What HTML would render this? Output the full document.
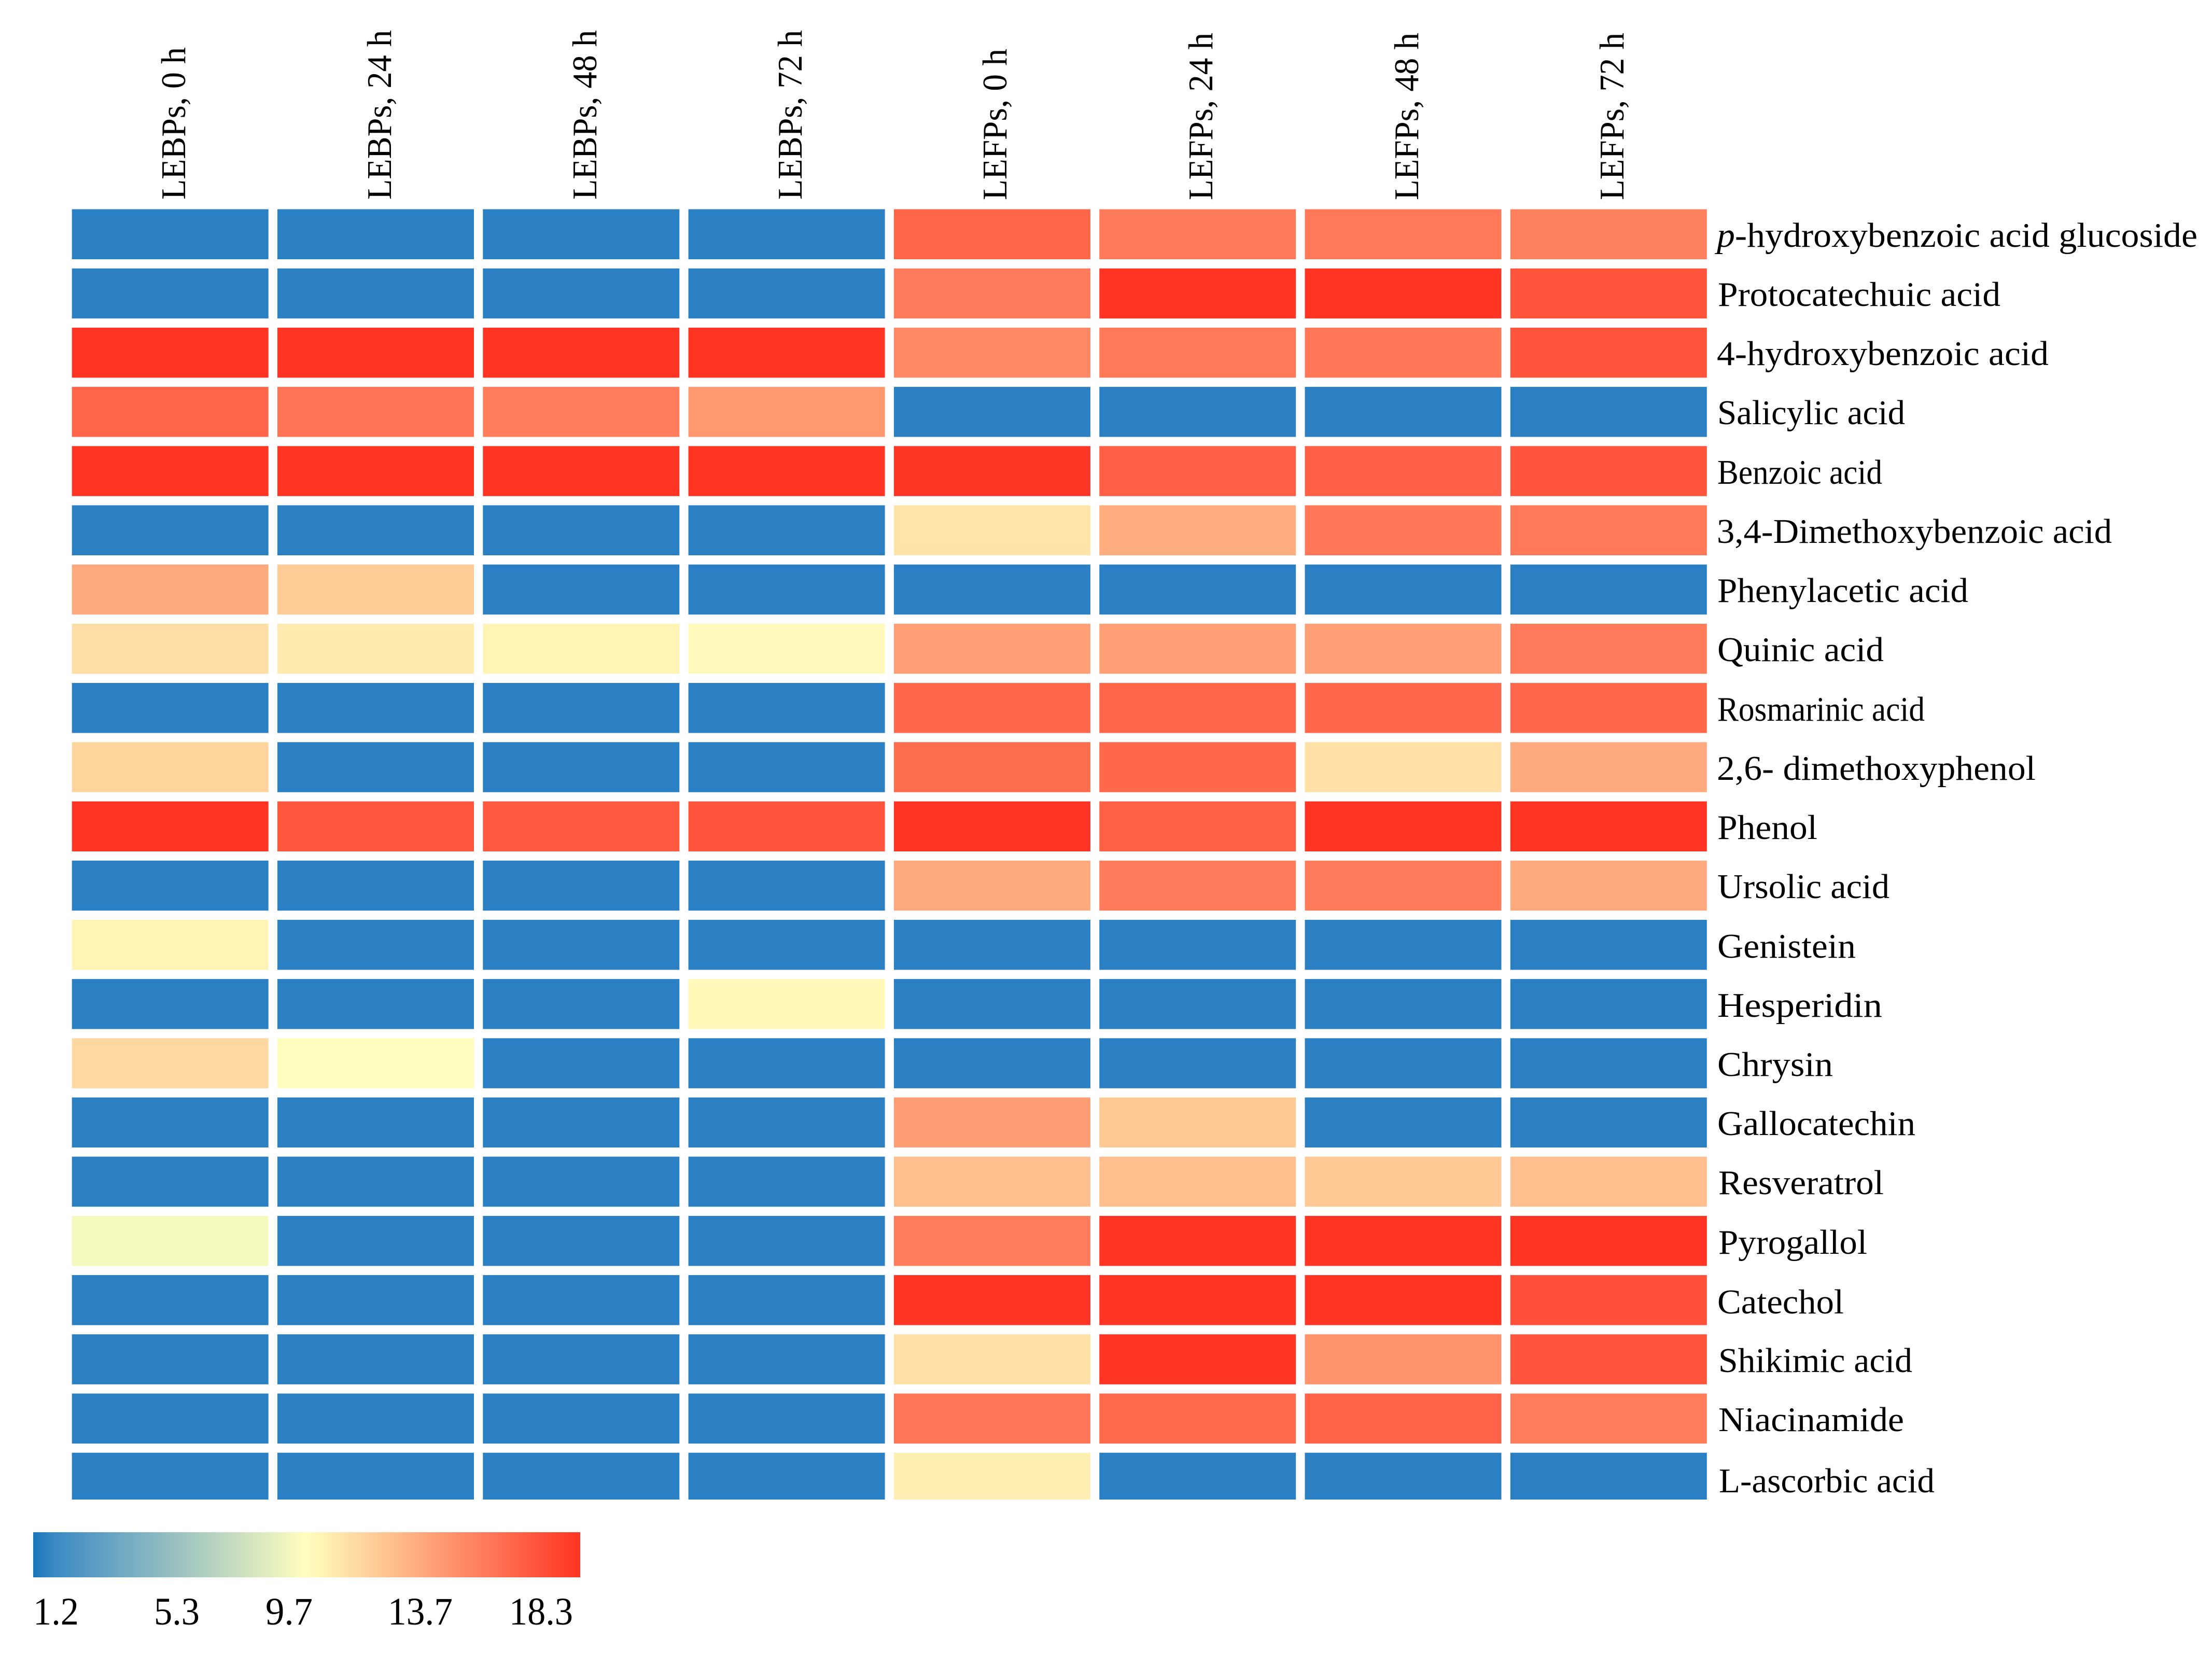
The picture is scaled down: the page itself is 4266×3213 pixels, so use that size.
<!DOCTYPE html>
<html lang="en">
<head>
<meta charset="utf-8">
<title>Phenolic compounds heatmap</title>
<style>
  html, body { margin: 0; padding: 0; background: #ffffff; }
  #chart { display: block; width: 4266px; height: 3213px; }
  text { font-family: "Liberation Serif", serif; fill: #000; }
  .col { font-size: 67px; }
  .row { font-size: 67px; }
  .tick { font-size: 75px; }
</style>
</head>
<body>
<svg id="chart" xmlns="http://www.w3.org/2000/svg" width="4266" height="3213" viewBox="0 0 4266 3213">
  <rect x="0" y="0" width="4266" height="3213" fill="#ffffff"/>
  <g id="cells"></g>

  <g>
    <text class="col" transform="translate(357 385) rotate(-90)" textLength="294" lengthAdjust="spacingAndGlyphs">LEBPs, 0 h</text>
    <text class="col" transform="translate(754 385) rotate(-90)" textLength="327" lengthAdjust="spacingAndGlyphs">LEBPs, 24 h</text>
    <text class="col" transform="translate(1150 385) rotate(-90)" textLength="327" lengthAdjust="spacingAndGlyphs">LEBPs, 48 h</text>
    <text class="col" transform="translate(1546 385) rotate(-90)" textLength="327" lengthAdjust="spacingAndGlyphs">LEBPs, 72 h</text>
    <text class="col" transform="translate(1941 386) rotate(-90)" textLength="292" lengthAdjust="spacingAndGlyphs">LEFPs, 0 h</text>
    <text class="col" transform="translate(2338 386) rotate(-90)" textLength="323" lengthAdjust="spacingAndGlyphs">LEFPs, 24 h</text>
    <text class="col" transform="translate(2735 386) rotate(-90)" textLength="323" lengthAdjust="spacingAndGlyphs">LEFPs, 48 h</text>
    <text class="col" transform="translate(3131 386) rotate(-90)" textLength="323" lengthAdjust="spacingAndGlyphs">LEFPs, 72 h</text>
  </g>

  <g>
    <text class="row" x="3311" y="476" textLength="927" lengthAdjust="spacingAndGlyphs"><tspan font-style="italic">p</tspan>-hydroxybenzoic acid glucoside</text>
    <text class="row" x="3313" y="590" textLength="545" lengthAdjust="spacingAndGlyphs">Protocatechuic acid</text>
    <text class="row" x="3311" y="704" textLength="640" lengthAdjust="spacingAndGlyphs">4-hydroxybenzoic acid</text>
    <text class="row" x="3312" y="818" textLength="362" lengthAdjust="spacingAndGlyphs">Salicylic acid</text>
    <text class="row" x="3312" y="933" textLength="318" lengthAdjust="spacingAndGlyphs">Benzoic acid</text>
    <text class="row" x="3311" y="1047" textLength="762" lengthAdjust="spacingAndGlyphs">3,4-Dimethoxybenzoic acid</text>
    <text class="row" x="3312" y="1161" textLength="484" lengthAdjust="spacingAndGlyphs">Phenylacetic acid</text>
    <text class="row" x="3312" y="1275" textLength="321" lengthAdjust="spacingAndGlyphs">Quinic acid</text>
    <text class="row" x="3312" y="1390" textLength="400" lengthAdjust="spacingAndGlyphs">Rosmarinic acid</text>
    <text class="row" x="3311" y="1504" textLength="615" lengthAdjust="spacingAndGlyphs">2,6- dimethoxyphenol</text>
    <text class="row" x="3312" y="1618" textLength="193" lengthAdjust="spacingAndGlyphs">Phenol</text>
    <text class="row" x="3312" y="1732" textLength="332" lengthAdjust="spacingAndGlyphs">Ursolic acid</text>
    <text class="row" x="3312" y="1847" textLength="267" lengthAdjust="spacingAndGlyphs">Genistein</text>
    <text class="row" x="3312" y="1961" textLength="318" lengthAdjust="spacingAndGlyphs">Hesperidin</text>
    <text class="row" x="3312" y="2075" textLength="223" lengthAdjust="spacingAndGlyphs">Chrysin</text>
    <text class="row" x="3312" y="2189" textLength="382" lengthAdjust="spacingAndGlyphs">Gallocatechin</text>
    <text class="row" x="3314" y="2303" textLength="319" lengthAdjust="spacingAndGlyphs">Resveratrol</text>
    <text class="row" x="3314" y="2418" textLength="287" lengthAdjust="spacingAndGlyphs">Pyrogallol</text>
    <text class="row" x="3312" y="2533" textLength="244" lengthAdjust="spacingAndGlyphs">Catechol</text>
    <text class="row" x="3314" y="2646" textLength="374" lengthAdjust="spacingAndGlyphs">Shikimic acid</text>
    <text class="row" x="3314" y="2760" textLength="358" lengthAdjust="spacingAndGlyphs">Niacinamide</text>
    <text class="row" x="3315" y="2878" textLength="416" lengthAdjust="spacingAndGlyphs">L-ascorbic acid</text>
  </g>

  <defs>
    <linearGradient id="legend-gradient" x1="0" y1="0" x2="1" y2="0"></linearGradient>
  </defs>
  <rect id="legend-bar" x="64" y="2955" width="1055" height="87" fill="url(#legend-gradient)"/>
  <g>
    <text class="tick" x="64" y="3133" textLength="88" lengthAdjust="spacingAndGlyphs">1.2</text>
    <text class="tick" x="297" y="3133" textLength="88" lengthAdjust="spacingAndGlyphs">5.3</text>
    <text class="tick" x="512" y="3133" textLength="91" lengthAdjust="spacingAndGlyphs">9.7</text>
    <text class="tick" x="748" y="3133" textLength="125" lengthAdjust="spacingAndGlyphs">13.7</text>
    <text class="tick" x="982" y="3133" textLength="123" lengthAdjust="spacingAndGlyphs">18.3</text>
  </g>
</svg>

<script>
const compounds = ["p-hydroxybenzoic acid glucoside","Protocatechuic acid","4-hydroxybenzoic acid","Salicylic acid","Benzoic acid","3,4-Dimethoxybenzoic acid","Phenylacetic acid","Quinic acid","Rosmarinic acid","2,6- dimethoxyphenol","Phenol","Ursolic acid","Genistein","Hesperidin","Chrysin","Gallocatechin","Resveratrol","Pyrogallol","Catechol","Shikimic acid","Niacinamide","L-ascorbic acid"];
const samples = ["LEBPs, 0 h","LEBPs, 24 h","LEBPs, 48 h","LEBPs, 72 h","LEFPs, 0 h","LEFPs, 24 h","LEFPs, 48 h","LEFPs, 72 h"];
const heatValues = [
  [1.2,1.2,1.2,1.2,16.2,15.35,15.4,15.1],
  [1.2,1.2,1.2,1.2,15.3,18.3,18.3,16.9],
  [18.3,18.3,18.3,18.3,14.7,15.4,15.45,16.9],
  [16.2,15.6,15.2,14.1,1.2,1.2,1.2,1.2],
  [18.3,18.3,18.3,18.3,18.2,16.5,16.5,16.9],
  [1.2,1.2,1.2,1.2,10.9,13.2,15.45,15.4],
  [13.3,11.9,1.2,1.2,1.2,1.2,1.2,1.2],
  [11.1,10.6,10.2,9.9,13.75,13.75,13.75,15.3],
  [1.2,1.2,1.2,1.2,16.1,16.2,16.1,16.1],
  [11.5,1.2,1.2,1.2,15.9,16.1,11.0,13.3],
  [18.3,16.8,16.7,16.9,18.3,16.4,18.3,18.3],
  [1.2,1.2,1.2,1.2,13.3,15.3,15.3,13.3],
  [10.2,1.2,1.2,1.2,1.2,1.2,1.2,1.2],
  [1.2,1.2,1.2,10.0,1.2,1.2,1.2,1.2],
  [11.4,9.8,1.2,1.2,1.2,1.2,1.2,1.2],
  [1.2,1.2,1.2,1.2,13.85,12.0,1.2,1.2],
  [1.2,1.2,1.2,1.2,12.45,12.4,12.05,12.4],
  [9.4,1.2,1.2,1.2,15.2,18.3,18.3,18.3],
  [1.2,1.2,1.2,1.2,18.3,18.3,18.3,17.1],
  [1.2,1.2,1.2,1.2,11.0,18.3,14.3,16.9],
  [1.2,1.2,1.2,1.2,15.5,16.0,16.35,15.2],
  [1.2,1.2,1.2,1.2,10.4,1.2,1.2,1.2]
];
const scaleMin = 1.2;
const scaleMax = 18.3;

const SVG_NS = "http://www.w3.org/2000/svg";
const PLOT = { left: 138.7, top: 403.5, bottom: 2892, colPitch: 396.3, rowPitch: 114.2, cellW: 379, cellH: 96.5 };

function xScale(colIndex) { return PLOT.left + colIndex * PLOT.colPitch; }
function yScale(rowIndex) { return PLOT.top + rowIndex * PLOT.rowPitch; }

const LOW = [43, 128, 196];
const MID = [255, 254, 190];
const HIGH = [255, 52, 35];
function colorScale(v) {
  const mid = (scaleMin + scaleMax) / 2;
  const a = v <= mid ? LOW : MID;
  const b = v <= mid ? MID : HIGH;
  let t = v <= mid ? (v - scaleMin) / (mid - scaleMin) : (v - mid) / (scaleMax - mid);
  t = Math.max(0, Math.min(1, t));
  const c = a.map(function (ch, i) { return Math.round(ch + (b[i] - ch) * t); });
  return "rgb(" + c[0] + "," + c[1] + "," + c[2] + ")";
}

const cellsGroup = document.getElementById("cells");
heatValues.forEach(function (rowValues, r) {
  rowValues.forEach(function (value, c) {
    const rect = document.createElementNS(SVG_NS, "rect");
    const y = yScale(r);
    rect.setAttribute("x", xScale(c));
    rect.setAttribute("y", y);
    rect.setAttribute("width", PLOT.cellW);
    rect.setAttribute("height", Math.min(PLOT.cellH, PLOT.bottom - y));
    rect.setAttribute("fill", colorScale(value));
    
    
    const title = document.createElementNS(SVG_NS, "title");
    title.textContent = compounds[r] + " / " + samples[c] + ": " + value;
    rect.appendChild(title);
    cellsGroup.appendChild(rect);
  });
});

const gradient = document.getElementById("legend-gradient");
const tipStop = document.createElementNS(SVG_NS, "stop");
tipStop.setAttribute("offset", 0);
tipStop.setAttribute("stop-color", "rgb(27,118,187)");
gradient.appendChild(tipStop);
[0.04, 0.25, 0.5, 0.75, 1].forEach(function (f) {
  const stop = document.createElementNS(SVG_NS, "stop");
  stop.setAttribute("offset", f);
  stop.setAttribute("stop-color", colorScale(scaleMin + f * (scaleMax - scaleMin)));
  gradient.appendChild(stop);
});
</script>
</body>
</html>
